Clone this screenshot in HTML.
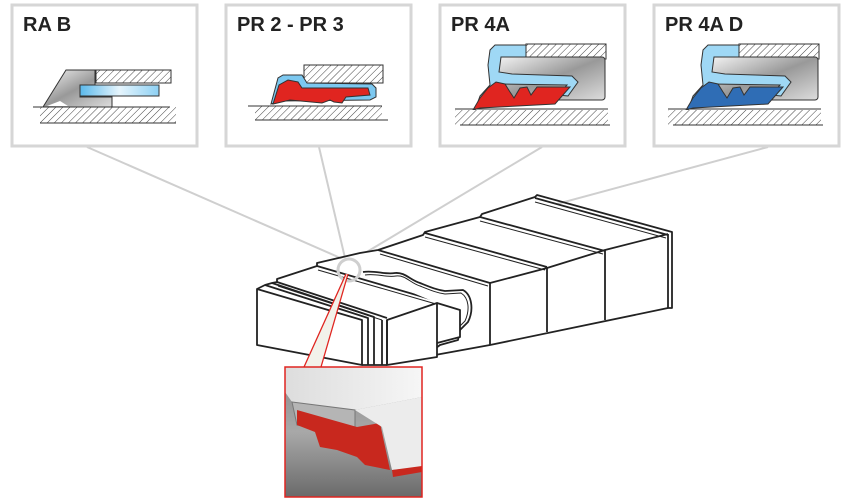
<!DOCTYPE html>
<html><head><meta charset="utf-8"><style>
html,body{margin:0;padding:0;background:#fff;}
svg{display:block;}
text{font-family:"Liberation Sans",sans-serif;font-weight:bold;font-size:20px;fill:#222;}
</style></head><body>
<svg width="850" height="504" viewBox="0 0 850 504" xmlns="http://www.w3.org/2000/svg">
<defs>
<pattern id="h" width="5" height="5" patternUnits="userSpaceOnUse" patternTransform="rotate(45)">
<rect width="5" height="5" fill="#fff"/><line x1="0" y1="0" x2="0" y2="5" stroke="#444" stroke-width="1"/>
</pattern>
<linearGradient id="g" x1="0" y1="0" x2="1" y2="1">
<stop offset="0" stop-color="#f4f4f4"/><stop offset="0.5" stop-color="#999"/><stop offset="1" stop-color="#ddd"/></linearGradient>
<linearGradient id="bl" x1="0" y1="0" x2="1" y2="0">
<stop offset="0" stop-color="#5ab8ea"/><stop offset="0.5" stop-color="#e6f5fd"/><stop offset="1" stop-color="#8dd0f3"/></linearGradient>
<linearGradient id="bg" x1="0" y1="0" x2="0" y2="1">
<stop offset="0" stop-color="#888"/><stop offset="0.5" stop-color="#a8a8a8"/><stop offset="1" stop-color="#6a6a6a"/></linearGradient>
<linearGradient id="wt" x1="0" y1="0" x2="1" y2="0">
<stop offset="0" stop-color="#ddd"/><stop offset="1" stop-color="#f6f6f6"/></linearGradient>
</defs>

<g stroke="#cfcfcf" stroke-width="2" fill="none">
<line x1="87" y1="147" x2="345" y2="260"/>
<line x1="319" y1="147" x2="345" y2="258"/>
<line x1="542" y1="147" x2="360" y2="256"/>
<line x1="768" y1="147" x2="368" y2="255"/>
</g>

<g fill="#fff" stroke="#d6d6d6" stroke-width="3">
<rect x="12" y="5" width="185" height="141"/>
<rect x="226" y="5" width="185" height="141"/>
<rect x="440" y="5" width="185" height="141"/>
<rect x="654" y="5" width="185" height="141"/>
</g>
<text x="23" y="31">RA B</text>
<text x="237" y="31">PR 2 - PR 3</text>
<text x="451" y="31">PR 4A</text>
<text x="665" y="31">PR 4A D</text>

<g stroke="#333" stroke-width="1">
<rect x="96" y="70" width="75" height="13" fill="url(#h)"/>
<polygon points="43,107 66,70 95,70 95,85 80,85 80,97 112,97 112,107" fill="url(#g)"/>
<polygon points="47,106 60,101 68,106" fill="#fff" stroke="none"/>
<rect x="80" y="85" width="79" height="11" fill="url(#bl)"/>
<rect x="40" y="107" width="136" height="16" fill="url(#h)" stroke="none"/>
<line x1="33" y1="107" x2="170" y2="107"/><line x1="40" y1="123" x2="176" y2="123"/>
</g>

<g stroke="#333" stroke-width="1">
<rect x="304" y="65" width="79" height="18" fill="url(#h)"/>
<path d="M271,104 L278,78 L283,75 L302,75 L307,83 L372,84 L376,88 L376,97 L370,100 L280,101 Z" fill="#7cc8f0"/>
<path d="M273,104 L279,85 L288,80 L298,82 L302,88 L368,88 L370,95 L346,97 L342,103 L334,102 L330,100 L322,103 L290,100 Z" fill="#e02520"/>
<rect x="255" y="106" width="127" height="14" fill="url(#h)" stroke="none"/>
<line x1="248" y1="106" x2="382" y2="106"/><line x1="255" y1="120" x2="388" y2="120"/>
</g>

<g transform="translate(440,40)" stroke="#333" stroke-width="1">
<rect x="86" y="4" width="80" height="15" fill="url(#h)"/>
<rect x="57" y="17" width="108" height="43" rx="3" fill="url(#g)"/>
<polygon points="50,10 55,5 86,5 86,17 61,17 59,32 72,34 132,36 138,42 128,56 118,55 127,45 60,44 46,55 38,62 35,70 40,56 50,45 48,25" fill="#9fd8f5"/>
<polygon points="33,70 40,58 48,48 56,42 65,44 70,52 74,58 80,48 87,47 91,55 97,47 130,47 115,64 40,68" fill="#e02520"/>
<rect x="15" y="70" width="153" height="15" fill="url(#h)" stroke="none"/>
<line x1="15" y1="69" x2="168" y2="69"/><line x1="20" y1="85" x2="170" y2="85"/>
</g>

<g transform="translate(653,40)" stroke="#333" stroke-width="1">
<rect x="86" y="4" width="80" height="15" fill="url(#h)"/>
<rect x="57" y="17" width="108" height="43" rx="3" fill="url(#g)"/>
<polygon points="50,10 55,5 86,5 86,17 61,17 59,32 72,34 132,36 138,42 128,56 118,55 127,45 60,44 46,55 38,62 35,70 40,56 50,45 48,25" fill="#9fd8f5"/>
<polygon points="33,70 40,58 48,48 56,42 65,44 70,52 74,58 80,48 87,47 91,55 97,47 130,47 115,64 40,68" fill="#2f6db5"/>
<rect x="15" y="70" width="153" height="15" fill="url(#h)" stroke="none"/>
<line x1="15" y1="69" x2="168" y2="69"/><line x1="20" y1="85" x2="170" y2="85"/>
</g>

<!-- duct -->
<g stroke="#222" stroke-width="1.8" fill="none" stroke-linejoin="round">
<polygon fill="#fff" stroke="none" points="257,289 277,282 317,266 360,253 378,250 423,235 480,217 535,197 668,234 672,232 672,308 668,308 490,345 435,355 387,365 362,365 257,345"/>
<!-- silhouette -->
<polyline points="257,289 265,285 272,283 277,282 277,279 317,266 317,263 360,253 378,250 423,235 425,232 480,217 482,214 535,197 537,195 672,232 672,308 668,308 490,345 435,355"/>
<line x1="668" y1="234" x2="668" y2="308"/>
<polyline points="490,283 547,268 605,250 668,234"/>
<line x1="490" y1="283" x2="490" y2="345"/>
<line x1="547" y1="268" x2="547" y2="332"/>
<line x1="605" y1="250" x2="605" y2="320"/>
<line x1="425" y1="233" x2="547" y2="267"/>
<line x1="425" y1="237" x2="545" y2="270" stroke-width="1"/>
<line x1="480" y1="217" x2="605" y2="251"/>
<line x1="480" y1="221" x2="603" y2="254" stroke-width="1"/>
<line x1="535" y1="198" x2="668" y2="235"/>
<line x1="535" y1="202" x2="666" y2="238" stroke-width="1"/>
<line x1="378" y1="250" x2="490" y2="283"/>
<line x1="380" y1="254" x2="488" y2="286" stroke-width="1"/>
<line x1="317" y1="266" x2="437" y2="301"/>
<line x1="318" y1="270" x2="436" y2="304" stroke-width="1"/>
<line x1="277" y1="282" x2="387" y2="318"/>
<line x1="278" y1="286" x2="382" y2="320" stroke-width="1"/>
<!-- cutaway wave -->
<path fill="#fff" stroke="none" d="M363,272 C375,270 385,275 395,273 C405,272 410,280 420,283 C430,287 437,290 445,291 L463,290 C472,295 474,310 468,322 L460,330 L458,340 L440,345 L436,348 L436,357 L437,303 Z"/>
<path d="M363,272 C375,270 385,275 395,273 C405,272 410,280 420,283 C430,287 437,290 445,291 L463,290 C472,295 474,310 468,322 L460,330 L458,340 L440,345 L436,348 L436,357"/>
<path d="M365,275 C377,273 386,278 396,276 C406,275 410,283 420,286 C430,290 437,293 445,294 L461,293 C469,298 470,310 465,321 L457,329 L455,338 L438,343" stroke-width="1"/>
<polyline fill="#fff" points="437,303 460,310 460,337 437,343"/>
<polygon fill="#fff" points="387,320 437,303 437,357 387,365"/>
<polygon fill="#fff" points="257,289 362,320 362,365 257,345"/>
<polyline points="265,285 368,318 368,365"/>
<polyline points="272,283 374,317 374,365"/>
<line x1="382" y1="320" x2="382" y2="365"/>
<line x1="387" y1="320" x2="387" y2="365"/>
<line x1="362" y1="365" x2="387" y2="365"/>
</g>

<circle cx="349" cy="270" r="11" fill="none" stroke="#cfcfcf" stroke-width="3"/>
<polygon points="346,274 348,274 321,367 304,367" fill="#f2f2ea"/>
<g stroke="#e02520" stroke-width="1.3">
<line x1="346" y1="274" x2="304" y2="367"/>
<line x1="348" y1="274" x2="321" y2="367"/>
</g>

<svg x="285" y="367" width="137" height="130" viewBox="285 367 137 130">
<rect x="285" y="367" width="137" height="130" fill="url(#bg)"/>
<polygon points="285,367 422,367 422,397 355,410 292,402 285,392" fill="url(#wt)"/>
<polygon points="292,402 355,410 355,432 297,425" fill="#b5b5b5" stroke="#777" stroke-width="1"/>
<polygon points="297,410 357,427 380,423 390,470 365,465 357,457 337,450 320,447 315,432 297,425" fill="#c8281e"/>
<polygon points="355,410 422,397 422,467 392,470 382,427" fill="#ececec"/>
<polygon points="392,470 422,466 422,472 393,477" fill="#c8281e"/>
</svg>
<rect x="285" y="367" width="137" height="130" fill="none" stroke="#e02520" stroke-width="1.5"/>
</svg>
</body></html>
